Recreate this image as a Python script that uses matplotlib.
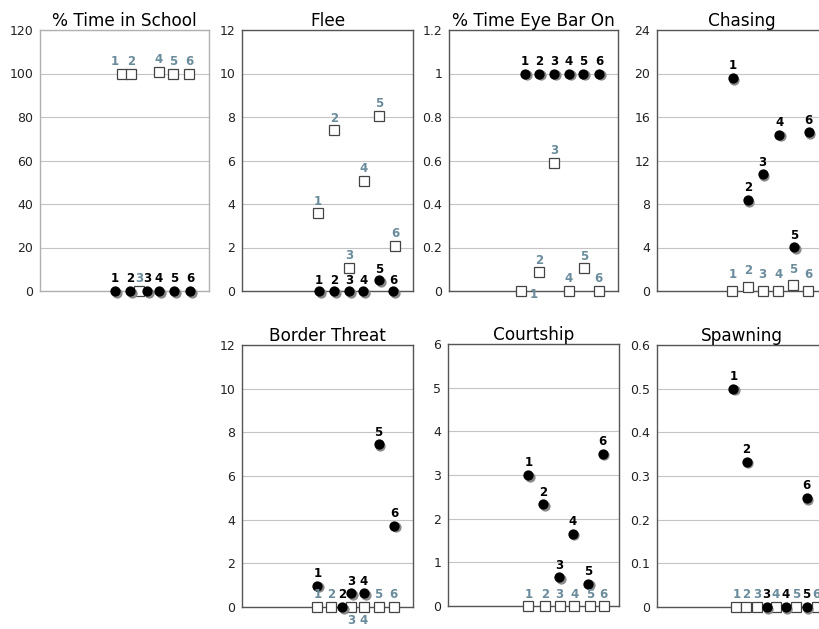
import matplotlib
matplotlib.use("Agg")
import matplotlib.pyplot as plt
import matplotlib.transforms as mtransforms
from matplotlib.ticker import FuncFormatter

fish = ["1", "2", "3", "4", "5", "6"]

# panel titles and y axes
titles = ["% Time in School", "Flee", "% Time Eye Bar On", "Chasing",
          "Border Threat", "Courtship", "Spawning"]
ymax = [120, 12, 1.2, 24, 12, 6, 0.6]
ystep = [20, 2, 0.2, 4, 2, 1, 0.1]

# circle series (black) values
school_circ = [0, 0, 0, 0, 0, 0]
flee_circ = [0, 0, 0, 0, 0.5, 0]
eye_circ = [1, 1, 1, 1, 1, 1]
chase_circ = [19.6, 8.37, 10.73, 14.37, 4.02, 14.62]
border_circ = [0.98, 0, 0.64, 0.64, 7.46, 3.73]
court_circ = [3.0, 2.33, 0.66, 1.66, 0.51, 3.49]
spawn_circ = [0.5, 0.333, 0, 0, 0, 0.25]

# square series (white) values
school_sq = [100, 100, 0, 100.8, 100, 100]
flee_sq = [3.57, 7.4, 1.07, 5.07, 8.05, 2.07]
eye_sq = [0, 0.087, 0.59, 0, 0.104, 0]
chase_sq = [0, 0.4, 0, 0, 0.55, 0]
border_sq = [0, 0, 0, 0, 0, 0]
court_sq = [0, 0, 0, 0, 0, 0]
spawn_sq = [0, 0, 0, 0, 0, 0]

# horizontal positions of each fish (jittered)
school_xc = [0.93, 1.92, 3.03, 3.81, 4.80, 5.85]
school_xs = [1.39, 1.97, 2.50, 3.81, 4.74, 5.79]
flee_xc = [1.0, 2.0, 2.95, 3.86, 4.89, 5.8]
flee_xs = [0.93, 1.97, 2.95, 3.91, 4.89, 5.93]
eye_xc = [1.0, 1.92, 2.89, 3.88, 4.80, 5.86]
eye_xs = [0.71, 1.92, 2.89, 3.88, 4.87, 5.83]
chase_xc = [0.97, 1.96, 2.94, 4.04, 5.0, 5.97]
chase_xs = [0.95, 1.96, 2.94, 3.97, 4.93, 5.94]
border_xc = [0.89, 2.5, 3.07, 3.92, 4.87, 5.87]
border_xs = [0.89, 1.76, 3.07, 3.92, 4.87, 5.85]
court_xc = [1.21, 2.19, 3.22, 4.09, 5.12, 6.04]
court_xs = [1.21, 2.29, 3.25, 4.2, 5.2, 6.1]
spawn_xc = [1.01, 1.88, 3.2, 4.45, 5.83, 5.83]
spawn_xs = [1.21, 1.86, 2.57, 3.79, 5.12, 6.49]

circ = [school_circ, flee_circ, eye_circ, chase_circ, border_circ, court_circ, spawn_circ]
sq = [school_sq, flee_sq, eye_sq, chase_sq, border_sq, court_sq, spawn_sq]
xc = [school_xc, flee_xc, eye_xc, chase_xc, border_xc, court_xc, spawn_xc]
xs = [school_xs, flee_xs, eye_xs, chase_xs, border_xs, court_xs, spawn_xs]

# axes rectangles in pixels: left, top, width, height
W, H = 820, 629
rects = [(40, 30, 169, 261), (242, 30, 171, 261), (449, 30, 169, 261), (657, 30, 169, 261),
         (242, 345, 171, 262), (448, 344, 171, 262), (657, 345, 169, 262)]

# special label offsets (pixels): {panel: {fish index: (dx, dy)}}
sq_label_off = {0: {0: (-7, 12)}, 2: {0: (13, -3)}, 3: {i: (0, 16) for i in range(6)},
                4: {2: (0, -13), 3: (0, -13)}}
circ_label_off = {1: {i: (0, 11) for i in range(6)}, 0: {i: (0, 13) for i in range(6)}}

label_blue = "#6b8c9c"

fig = plt.figure(figsize=(8.2, 6.29), dpi=100)

for k in range(7):
    l, t, w, h = rects[k]
    ax = fig.add_axes([l / W, 1 - (t + h) / H, w / W, h / H])
    ax.set_xlim(-4, 7.1)
    ax.set_ylim(0, ymax[k])
    n = int(round(ymax[k] / ystep[k]))
    ax.set_yticks([i * ystep[k] for i in range(n + 1)])
    ax.yaxis.set_major_formatter(FuncFormatter(lambda v, p: "{:g}".format(round(v, 3))))
    ax.set_xticks([])
    ax.tick_params(axis="y", length=0, pad=5, labelsize=9, labelcolor="#222222")
    ax.yaxis.grid(True, color="#c4c4c4", lw=0.8)
    ax.set_axisbelow(True)
    spine_col = "#b0b0b0" if k == 0 else "#555555"
    for s in ax.spines.values():
        s.set_color(spine_col)
        s.set_linewidth(1.0)
    ax.set_title(titles[k], fontsize=12.2, pad=3)

    # squares
    ax.plot(xs[k], sq[k], ls="none", marker="s", ms=7.2, mfc="white",
            mec="#444444", mew=0.9, clip_on=False, zorder=4)
    # circle shadows and circles
    shadow = ax.transData + mtransforms.ScaledTranslation(1.2 / 72, -1.2 / 72, fig.dpi_scale_trans)
    ax.plot(xc[k], circ[k], ls="none", marker="o", ms=7.4, mfc="#8a8a8a", mec="none",
            transform=shadow, clip_on=False, zorder=5)
    ax.plot(xc[k], circ[k], ls="none", marker="o", ms=7.4, mfc="black", mec="none",
            clip_on=False, zorder=6)

    for i in range(6):
        dx, dy = sq_label_off.get(k, {}).get(i, (0, 12))
        ax.annotate(fish[i], (xs[k][i], sq[k][i]), xytext=(dx, dy), textcoords="offset pixels",
                    ha="center", va="center", fontsize=8.5, fontweight="bold",
                    color=label_blue, annotation_clip=False, zorder=7)
        dx, dy = circ_label_off.get(k, {}).get(i, (0, 12))
        ax.annotate(fish[i], (xc[k][i], circ[k][i]), xytext=(dx, dy), textcoords="offset pixels",
                    ha="center", va="center", fontsize=8.5, fontweight="bold",
                    color="black", annotation_clip=False, zorder=7)

fig.savefig("out.png", dpi=100)
